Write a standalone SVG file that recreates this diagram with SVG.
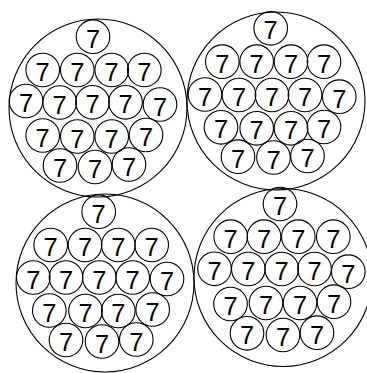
<svg xmlns="http://www.w3.org/2000/svg" width="367" height="373" viewBox="0 0 367 373">
<style>
.big{fill:none;stroke:#000;stroke-width:1.1}
.s{fill:none;stroke:#000;stroke-width:1.1}
.t{font-family:"Liberation Sans",Arial,sans-serif;font-size:25.5px;text-anchor:middle;fill:#000}
</style>
<rect width="367" height="373" fill="#fff"/>
<defs>
<g id="n"><circle class="s" r="16.8"/><text class="t" y="11">7</text></g>
</defs>
<g id="cluster1">
<circle class="big" cx="98" cy="108" r="89"/>
<use href="#n" x="93" y="36.7"/>
<use href="#n" x="42.7" y="70"/><use href="#n" x="77.3" y="70"/><use href="#n" x="111.7" y="70"/><use href="#n" x="144.3" y="70"/>
<use href="#n" x="26" y="101"/><use href="#n" x="59.7" y="102.5"/><use href="#n" x="92.5" y="102.3"/><use href="#n" x="125.5" y="102.3"/><use href="#n" x="160" y="104.5"/>
<use href="#n" x="42.7" y="135.5"/><use href="#n" x="77.3" y="136.5"/><use href="#n" x="111.7" y="136.5"/><use href="#n" x="146" y="135"/>
<use href="#n" x="60" y="165.5"/><use href="#n" x="95" y="167"/><use href="#n" x="129" y="164.5"/>
</g>
<g id="cluster2">
<circle class="big" cx="276" cy="101" r="89"/>
<use href="#n" x="270.7" y="28.3"/>
<use href="#n" x="222.3" y="61.7"/><use href="#n" x="256.7" y="61.7"/><use href="#n" x="291" y="61.7"/><use href="#n" x="324" y="61.7"/>
<use href="#n" x="205" y="94.5"/><use href="#n" x="239" y="95"/><use href="#n" x="272" y="95"/><use href="#n" x="305" y="95"/><use href="#n" x="339.3" y="96.7"/>
<use href="#n" x="221" y="127.3"/><use href="#n" x="256.7" y="128.3"/><use href="#n" x="291" y="128.3"/><use href="#n" x="324" y="127"/>
<use href="#n" x="238" y="156.7"/><use href="#n" x="273.5" y="157.5"/><use href="#n" x="307.5" y="156"/>
</g>
<g id="cluster3">
<circle class="big" cx="105" cy="283" r="89"/>
<use href="#n" x="98.7" y="211.7"/>
<use href="#n" x="50.7" y="245"/><use href="#n" x="85" y="245"/><use href="#n" x="118.3" y="245"/><use href="#n" x="151.7" y="245"/>
<use href="#n" x="33.3" y="277.5"/><use href="#n" x="66" y="277.5"/><use href="#n" x="99.3" y="277.5"/><use href="#n" x="132.7" y="277.5"/><use href="#n" x="167" y="279"/>
<use href="#n" x="49.3" y="310.5"/><use href="#n" x="85.5" y="311"/><use href="#n" x="118.3" y="311"/><use href="#n" x="152.7" y="309.5"/>
<use href="#n" x="66" y="340"/><use href="#n" x="102" y="341.5"/><use href="#n" x="136.3" y="339.5"/>
</g>
<g id="cluster4">
<circle class="big" cx="283" cy="277.5" r="89"/>
<use href="#n" x="280" y="204"/>
<use href="#n" x="230.7" y="236.7"/><use href="#n" x="264" y="236.7"/><use href="#n" x="298.3" y="236.7"/><use href="#n" x="333.3" y="236.7"/>
<use href="#n" x="214.5" y="268.8"/><use href="#n" x="248.3" y="269"/><use href="#n" x="281.7" y="269"/><use href="#n" x="314.5" y="269"/><use href="#n" x="348.3" y="271.7"/>
<use href="#n" x="230.5" y="304"/><use href="#n" x="266" y="303"/><use href="#n" x="300" y="303"/><use href="#n" x="334" y="301.7"/>
<use href="#n" x="247" y="333.3"/><use href="#n" x="283" y="335"/><use href="#n" x="317" y="332.7"/>
</g>
</svg>
